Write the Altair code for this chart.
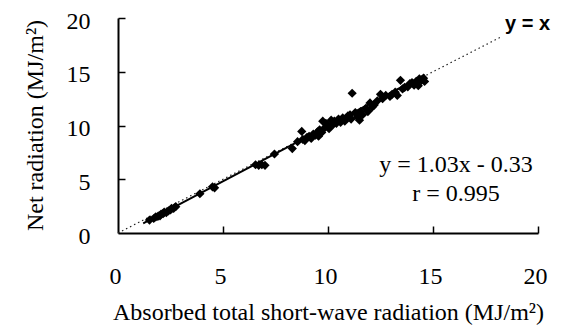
import altair as alt
import pandas as pd

# Observed points (absorbed short-wave vs net radiation, MJ/m2)
x_vals = [1.5, 1.7, 1.8, 1.9, 2.0, 2.05, 2.15, 2.2, 2.3, 2.4, 2.5, 2.55, 2.65, 2.75,
          3.9, 4.5, 4.6, 6.55, 6.7, 6.85, 7.0, 7.45, 8.3, 8.75, 8.55, 8.8, 8.9, 9.0,
          9.1, 9.2, 9.3, 9.4, 9.5, 9.55, 9.6, 9.7, 9.75, 9.85, 9.9, 10.0, 10.05, 10.15,
          10.25, 10.3, 10.4, 10.5, 10.6, 10.7, 10.8, 10.95, 11.05, 11.1, 11.15, 11.3,
          11.4, 11.5, 11.55, 11.65, 11.8, 11.9, 12.0, 12.1, 12.2, 12.35, 12.5, 12.6,
          12.75, 12.95, 13.05, 13.2, 13.3, 13.45, 13.55, 13.65, 13.8, 13.9, 14.0, 14.1,
          14.2, 14.3, 14.35, 14.45, 14.55, 14.6]
y_vals = [1.2, 1.35, 1.5, 1.55, 1.6, 1.75, 1.8, 1.95, 1.9, 2.05, 2.15, 2.3, 2.3, 2.45,
          3.65, 4.3, 4.2, 6.35, 6.3, 6.35, 6.3, 7.35, 7.85, 9.45, 8.5, 8.7, 8.6, 8.9,
          9.0, 8.8, 9.2, 9.1, 9.4, 9.0, 9.6, 9.35, 10.4, 9.8, 10.2, 10.0, 9.7, 10.5,
          10.1, 10.4, 10.2, 10.6, 10.3, 10.7, 10.4, 10.9, 11.0, 10.6, 13.0, 11.2,
          10.8, 10.5, 11.3, 11.0, 11.6, 11.3, 12.1, 11.7, 11.9, 12.3, 12.9, 12.5,
          12.8, 12.7, 12.9, 13.1, 12.8, 14.2, 13.4, 13.55, 13.6, 13.9, 14.0, 13.75,
          14.1, 13.7, 14.35, 14.2, 14.4, 14.1]

# Fitted line y = 1.03x - 0.33 and its drawn extent
slope, intercept = 1.03, -0.33
reg_x = [1.2, 14.6]
# 1:1 line extent
ident_x = [0, 18.3]

x_ticks = [0, 5, 10, 15, 20]
y_ticks = [0, 5, 10, 15, 20]
inner_ticks = [5, 10, 15, 20]

eq_text = ["y = 1.03x - 0.33", "r = 0.995"]
eq_x = [16.1, 16.1]
eq_y = [6.3, 3.6]
yx_text = ["y = x"]
yx_x = [19.5]
yx_y = [19.4]

pts = pd.DataFrame({"x": x_vals, "y": y_vals})
reg = pd.DataFrame({"x": reg_x, "y": [slope * v + intercept for v in reg_x]})
ident = pd.DataFrame({"x": ident_x, "y": ident_x})
eq = pd.DataFrame({"t": eq_text, "x": eq_x, "y": eq_y})
yx = pd.DataFrame({"t": yx_text, "x": yx_x, "y": yx_y})

serif = "Liberation Serif"
xs = alt.Scale(domain=[0, 20], nice=False, zero=False)
ys = alt.Scale(domain=[0, 20], nice=False, zero=False)

x_main = alt.Axis(values=x_ticks, ticks=False, tickSize=0, labelPadding=50,
                  labelBaseline="alphabetic", labelFlush=False, labelOffset=-3,
                  labelFont=serif, labelFontSize=24, labelColor="black",
                  domainColor="black", domainWidth=2, grid=False,
                  title="Absorbed total short-wave radiation (MJ/m²)",
                  titleFont=serif, titleFontSize=24, titleFontWeight="normal",
                  titleColor="black", titleY=86, titleBaseline="alphabetic")
y_main = alt.Axis(values=y_ticks, ticks=False, tickSize=0, labelPadding=28,
                  labelFont=serif, labelFontSize=24, labelColor="black",
                  labelOffset=3, labelFlush=False,
                  domainColor="black", domainWidth=2, grid=False,
                  title="Net radiation (MJ/m²)",
                  titleFont=serif, titleFontSize=24, titleFontWeight="normal",
                  titleColor="black", titleX=-76, titleY=107, titleAngle=270,
                  titleBaseline="alphabetic", titleAlign="center")
x_in = alt.Axis(orient="top", offset=-215, values=inner_ticks, tickSize=7,
                tickWidth=1.5, tickColor="black", labels=False, domain=False,
                title=None, grid=False)
y_in = alt.Axis(orient="right", offset=-420, values=inner_ticks, tickSize=7,
                tickWidth=1.5, tickColor="black", labels=False, domain=False,
                title=None, grid=False)

ident_layer = alt.Chart(ident).mark_line(color="#222222", strokeWidth=1.2,
                                         strokeDash=[1.5, 3]).encode(
    x=alt.X("x:Q", scale=xs, axis=x_in),
    y=alt.Y("y:Q", scale=ys, axis=y_in))

reg_layer = alt.Chart(reg).mark_line(color="black", strokeWidth=2).encode(
    x=alt.X("x:Q", scale=xs, axis=None),
    y=alt.Y("y:Q", scale=ys, axis=None))

pt_layer = alt.Chart(pts).mark_point(shape="diamond", filled=True, color="black",
                                     size=85, opacity=1).encode(
    x=alt.X("x:Q", scale=xs, axis=x_main),
    y=alt.Y("y:Q", scale=ys, axis=y_main))

eq_layer = alt.Chart(eq).mark_text(font=serif, fontSize=24, color="black",
                                   align="center", baseline="middle").encode(
    x=alt.X("x:Q", scale=xs, axis=None),
    y=alt.Y("y:Q", scale=ys, axis=None),
    text="t:N")

yx_layer = alt.Chart(yx).mark_text(font="Liberation Sans", fontSize=20,
                                   fontWeight="bold", color="black",
                                   align="center", baseline="middle").encode(
    x=alt.X("x:Q", scale=xs, axis=None),
    y=alt.Y("y:Q", scale=ys, axis=None),
    text="t:N")

chart = alt.layer(ident_layer, reg_layer, pt_layer, eq_layer, yx_layer).resolve_axis(
    x="independent", y="independent"
).properties(
    width=420, height=215,
    autosize=alt.AutoSizeParams(type="none"),
    padding={"left": 118, "top": 18, "right": 34, "bottom": 92},
    background="white",
).configure_view(stroke=None)

chart.save("out.html", embed_options={"renderer": "svg", "actions": False})
